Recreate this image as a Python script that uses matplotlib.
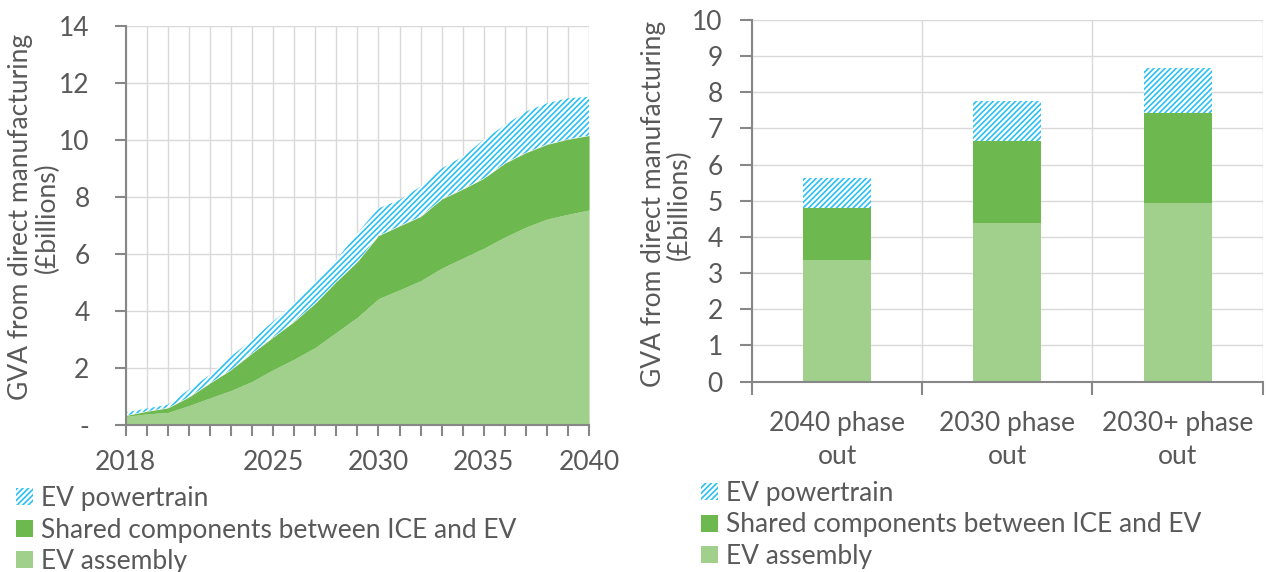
import numpy as np
import matplotlib
matplotlib.use('Agg')
import matplotlib.pyplot as plt
from matplotlib.patches import Patch

# left chart: stacked area, GVA by year (£bn)
years = list(range(2018, 2041))
ev_assembly = [0.30, 0.39, 0.44, 0.68, 0.95, 1.21, 1.53, 1.94, 2.31, 2.72, 3.25, 3.78, 4.43,
               4.74, 5.06, 5.50, 5.85, 6.20, 6.59, 6.94, 7.22, 7.39, 7.54]
shared_total = [0.33, 0.48, 0.60, 0.98, 1.47, 1.94, 2.52, 3.08, 3.63, 4.27, 5.03, 5.73, 6.64,
                6.98, 7.31, 7.92, 8.27, 8.65, 9.18, 9.55, 9.84, 10.02, 10.15]
all_total = [0.44, 0.58, 0.71, 1.24, 1.76, 2.41, 2.99, 3.63, 4.27, 5.03, 5.79, 6.73, 7.60,
             7.89, 8.36, 9.00, 9.41, 10.00, 10.52, 10.99, 11.28, 11.46, 11.51]
year_labels = ['2018', '2025', '2030', '2035', '2040']

# right chart: stacked bars by scenario
scenarios = ['2040 phase\nout', '2030 phase\nout', '2030+ phase\nout']
bar_assembly = [3.35, 4.39, 4.94]
bar_shared = [1.45, 2.26, 2.50]
bar_powertrain = [0.84, 1.11, 1.23]

series_names = ['EV powertrain', 'Shared components between ICE and EV', 'EV assembly']

dark_green = '#6db84f'
light_green = '#a0d08b'
hatch_blue = '#2cc0f2'
text_col = '#595959'
axis_col = '#878787'
grid_col = '#d9d9d9'
hatch_pat = '//////'

plt.rcParams['font.family'] = ['Lato', 'DejaVu Sans']
plt.rcParams['font.size'] = 19
plt.rcParams['text.color'] = text_col
plt.rcParams['hatch.linewidth'] = 1.2

fig = plt.figure(figsize=(12.66, 5.72), dpi=100)
ax1 = fig.add_axes([0.0993, 0.257, 0.366, 0.698])
ax2 = fig.add_axes([0.5940, 0.333, 0.4034, 0.632])

# ---- left chart
yrs = np.array(years)
ax1.fill_between(yrs, 0, ev_assembly, color=light_green, lw=0, zorder=3)
ax1.fill_between(yrs, ev_assembly, shared_total, color=dark_green, lw=0, zorder=3)
ax1.fill_between(yrs, shared_total, all_total, facecolor='white', edgecolor=hatch_blue,
                 hatch=hatch_pat, lw=0, zorder=3)
ax1.set_xlim(2018, 2040)
ax1.set_ylim(0, 14)
ax1.set_xticks(years)
ax1.set_xticklabels([str(y) if str(y) in year_labels else '' for y in years])
ax1.set_yticks(range(0, 15, 2))
ax1.set_yticklabels(['-'] + [str(v) for v in range(2, 15, 2)])
ax1.grid(True, color=grid_col, lw=1, zorder=0)
ax1.tick_params(axis='x', direction='out', length=8, width=1.5, color=axis_col,
                labelcolor=text_col, pad=10)
ax1.tick_params(axis='y', direction='out', length=8, width=1.5, color=axis_col,
                labelcolor=text_col, pad=18)
ax1.set_ylabel('GVA from direct manufacturing\n(£billions)', color=text_col,
               linespacing=1.05)
ax1.yaxis.set_label_coords(-0.143, 0.52)

# ---- right chart
xpos = np.arange(len(scenarios))
w = 0.4
ax2.bar(xpos, bar_assembly, w, color=light_green, zorder=3)
ax2.bar(xpos, bar_shared, w, bottom=bar_assembly, color=dark_green, zorder=3)
bottom2 = np.array(bar_assembly) + np.array(bar_shared)
ax2.bar(xpos, bar_powertrain, w, bottom=bottom2, facecolor='white', edgecolor=hatch_blue,
        hatch=hatch_pat, lw=0, zorder=3)
ax2.set_xlim(-0.5, 2.5)
ax2.set_ylim(0, 10)
ax2.set_yticks(range(0, 11))
ax2.set_xticks(xpos)
ax2.set_xticklabels(scenarios, linespacing=1.4)
ax2.set_xticks([-0.5, 0.5, 1.5, 2.5], minor=True)
ax2.grid(True, axis='y', color=grid_col, lw=1, zorder=0)
ax2.grid(True, axis='x', which='minor', color=grid_col, lw=1, zorder=0)
ax2.tick_params(axis='x', which='major', length=0, labelcolor=text_col, pad=21)
ax2.tick_params(axis='x', which='minor', direction='out', length=9, width=1.5, color=axis_col)
ax2.tick_params(axis='y', direction='out', length=9, width=1.5, color=axis_col,
                labelcolor=text_col, pad=12)
ax2.set_ylabel('GVA from direct manufacturing\n(£billions)', color=text_col,
               linespacing=1.05)
ax2.yaxis.set_label_coords(-0.118, 0.49)

for ax in (ax1, ax2):
    ax.spines['top'].set_visible(False)
    ax.spines['right'].set_visible(False)
    for s in ('left', 'bottom'):
        ax.spines[s].set_color(axis_col)
        ax.spines[s].set_linewidth(1.5)
        ax.spines[s].set_zorder(4)

handles = [Patch(facecolor='white', edgecolor=hatch_blue, hatch=hatch_pat, lw=0),
           Patch(facecolor=dark_green, lw=0),
           Patch(facecolor=light_green, lw=0)]
leg_kw = dict(loc='upper left', frameon=False, borderpad=0, borderaxespad=0,
              handlelength=0.62, handleheight=0.62, handletextpad=0.32,
              labelspacing=0.24, fontsize=19, labelcolor=text_col)
fig.legend(handles, series_names, bbox_to_anchor=(0.013, 0.150), **leg_kw)
fig.legend(handles, series_names, bbox_to_anchor=(0.554, 0.159), **leg_kw)

fig.savefig('out.png', dpi=100)
